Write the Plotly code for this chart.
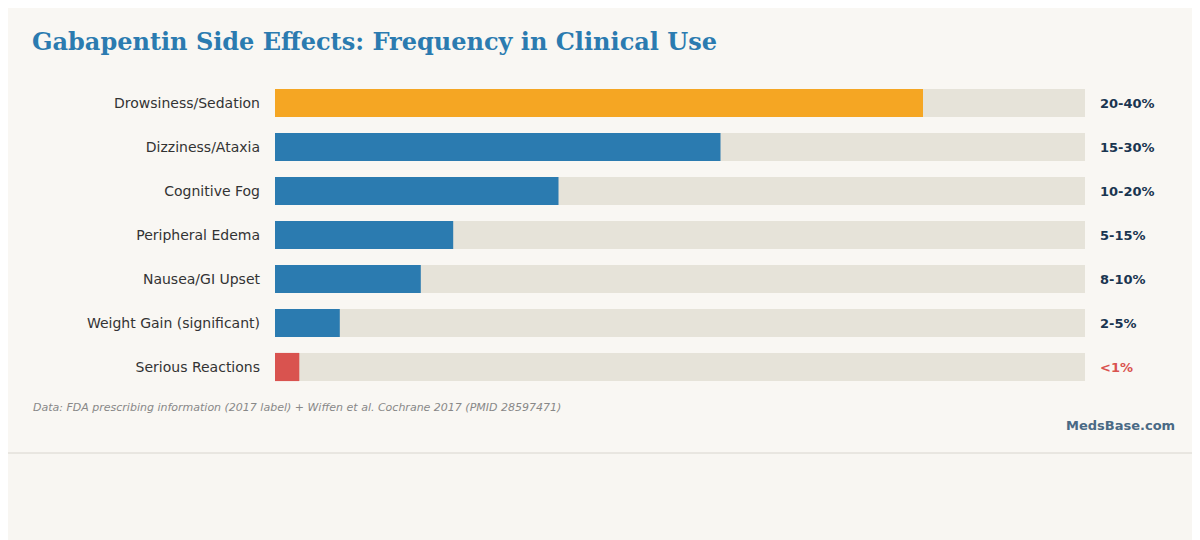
import plotly.graph_objects as go

categories = ["Drowsiness/Sedation", "Dizziness/Ataxia", "Cognitive Fog", "Peripheral Edema",
              "Nausea/GI Upset", "Weight Gain (significant)", "Serious Reactions"]
values = [40, 27.5, 17.5, 11, 9, 4, 1.5]
labels = ["20-40%", "15-30%", "10-20%", "5-15%", "8-10%", "2-5%", "<1%"]
colors = ["#f5a623", "#2b7bb0", "#2b7bb0", "#2b7bb0", "#2b7bb0", "#2b7bb0", "#d9534f"]
label_colors = ["#1a3550"] * 6 + ["#d9534f"]
track_max = 50

fig = go.Figure()
fig.add_trace(go.Bar(y=categories, x=[track_max] * len(categories), orientation="h",
                     marker=dict(color="#e6e3d9", line_width=0), width=0.64, hoverinfo="skip"))
fig.add_trace(go.Bar(y=categories, x=values, orientation="h",
                     marker=dict(color=colors, line_width=0), width=0.64))

for c, t, col in zip(categories, labels, label_colors):
    fig.add_annotation(x=track_max, y=c, text=f"<b>{t}</b>", showarrow=False, xanchor="left",
                       xshift=13, font=dict(family="DejaVu Sans", size=13, color=col))

fig.add_annotation(xref="paper", yref="paper", x=-0.302, y=1.183, xanchor="left",
                   text="<b>Gabapentin Side Effects: Frequency in Clinical Use</b>", showarrow=False,
                   font=dict(family="DejaVu Serif", size=24, color="#2b7bb0"))
fig.add_annotation(xref="paper", yref="paper", x=-0.301, y=-0.089, xanchor="left",
                   text="<i>Data: FDA prescribing information (2017 label) + Wiffen et al. Cochrane 2017 (PMID 28597471)</i>",
                   showarrow=False, font=dict(family="DejaVu Sans", size=11, color="#888888"))
fig.add_annotation(xref="paper", yref="paper", x=1.1135, y=-0.148, xanchor="right",
                   text="<b>MedsBase.com</b>", showarrow=False,
                   font=dict(family="DejaVu Sans", size=13, color="#4a6a85"))

fig.add_shape(type="rect", xref="paper", yref="paper", x0=-0.338, x1=1.1395, y0=-0.2078, y1=1.2597,
              line=dict(color="#d8d5ce", width=1), fillcolor="#f9f7f3", layer="below")

fig.update_layout(
    width=1200, height=540, barmode="overlay", showlegend=False,
    paper_bgcolor="#f8f6f2", plot_bgcolor="rgba(0,0,0,0)",
    margin=dict(l=267, r=123, t=73, b=159),
    xaxis=dict(range=[0, track_max], visible=False, fixedrange=True),
    yaxis=dict(autorange="reversed", showgrid=False, zeroline=False, ticks="", ticklabelstandoff=14,
               tickfont=dict(family="DejaVu Sans", size=14, color="#333333")),
)
fig.write_html("out.html")
